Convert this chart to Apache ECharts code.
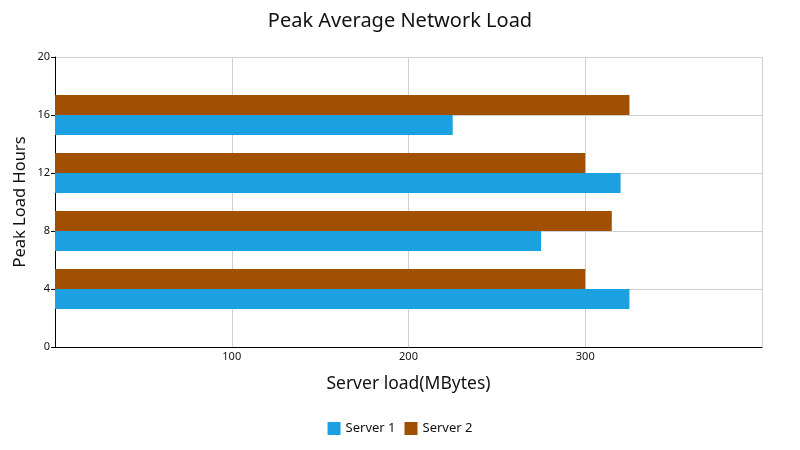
<!DOCTYPE html>
<html>
<head>
<meta charset="utf-8">
<script src="https://cdn.jsdelivr.net/npm/echarts@6/dist/echarts.min.js"></script>
<style>html,body{margin:0;padding:0;background:#fff}#c{width:800px;height:450px}</style>
</head>
<body>
<div id="c"></div>
<script>
var yTicks = ['0', '4', '8', '12', '16', '20'];
var hours = ['4', '8', '12', '16'];
var server1 = [325, 275, 320, 225];
var server2 = [300, 315, 300, 325];
var seriesNames = ['Server 1', 'Server 2'];
var colors = ['#1BA1E2', '#A05000'];
var FONT = 'Noto Sans';

function pairs(vals) { return vals.map(function (v, i) { return [v, hours[i]]; }); }

var chart = echarts.init(document.getElementById('c'));
chart.setOption({
  animation: false,
  textStyle: { fontFamily: FONT },
  title: {
    text: 'Peak Average Network Load', left: 'center', top: 6,
    textStyle: { fontFamily: FONT, fontSize: 20, fontWeight: 'normal', color: '#111' }
  },
  grid: { left: 55, right: 38, top: 57, bottom: 103, containLabel: false, outerBoundsMode: 'none' },
  legend: {
    bottom: 10, left: 'center', icon: 'rect', itemWidth: 13, itemHeight: 13, itemGap: 9,
    textStyle: { fontFamily: FONT, fontSize: 13, color: '#111' },
    data: seriesNames
  },
  xAxis: {
    type: 'value', min: 0, max: 400, interval: 100,
    name: 'Server load(MBytes)', nameLocation: 'middle', nameGap: 28,
    nameTextStyle: { fontFamily: FONT, fontSize: 17.5, color: '#111' },
    axisLine: { show: true, lineStyle: { color: '#000', width: 1 } },
    axisTick: { show: false },
    axisLabel: { fontFamily: FONT, fontSize: 11, color: '#111', margin: 4,
      formatter: function (v) { return (v === 0 || v === 400) ? '' : String(v); } },
    splitLine: { show: true, lineStyle: { color: '#d0d0d0', width: 1 } }
  },
  yAxis: {
    type: 'category', data: yTicks, boundaryGap: false,
    name: 'Peak Load Hours', nameLocation: 'middle', nameGap: 26, nameMoveOverlap: false,
    nameTextStyle: { fontFamily: FONT, fontSize: 16.5, color: '#111' },
    axisLine: { show: true, lineStyle: { color: '#000', width: 1 } },
    axisTick: { show: true, length: 4, lineStyle: { color: '#000' } },
    axisLabel: { fontFamily: FONT, fontSize: 11, color: '#111', margin: 5 },
    splitLine: { show: true, lineStyle: { color: '#d0d0d0', width: 1 } }
  },
  series: [
    { name: seriesNames[1], type: 'bar', data: pairs(server2), barWidth: 20, barGap: '0%',
      itemStyle: { color: colors[1] } },
    { name: seriesNames[0], type: 'bar', data: pairs(server1), barWidth: 20, barGap: '0%',
      itemStyle: { color: colors[0] } }
  ]
});
</script>
</body>
</html>
